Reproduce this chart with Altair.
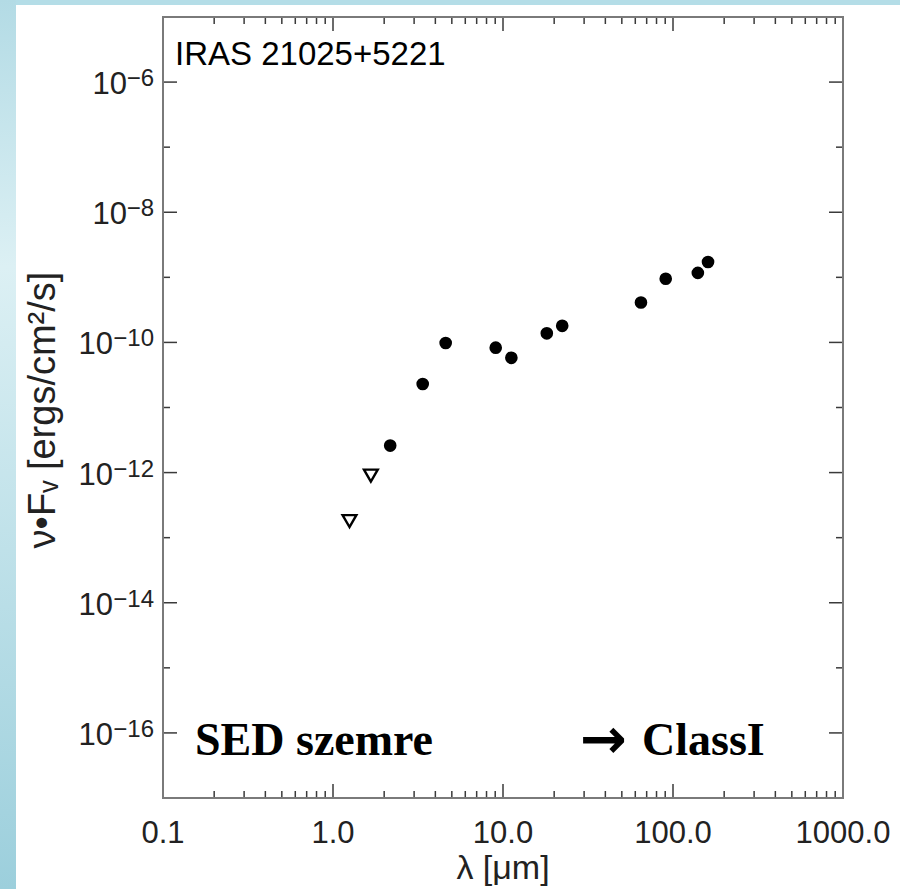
import altair as alt
import pandas as pd

# ---- data ----
lam_det = [2.17, 3.37, 4.6, 9.06, 11.2, 18.1, 22.3, 64.8, 90.6, 140.0, 160.7]
flux_det = [2.6e-12, 2.3e-11, 9.8e-11, 8.3e-11, 5.8e-11, 1.38e-10, 1.8e-10,
            4.1e-10, 9.5e-10, 1.17e-9, 1.72e-9]
lam_lim = [1.25, 1.67]
flux_lim = [1.8e-13, 9.0e-13]

x_label_values = [0.1, 1, 10, 100, 1000]
x_label_text = ["0.1", "1.0", "10.0", "100.0", "1000.0"]
x_major = [1, 10, 100]
x_minor = [m * d for d in [0.1, 1, 10, 100] for m in range(2, 10)]
y_major = [1e-16, 1e-14, 1e-12, 1e-10, 1e-8, 1e-6]
y_label_base = ["10", "10", "10", "10", "10", "10"]
y_label_exp = ["−16", "−14", "−12", "−10", "−8", "−6"]
y_minor = [1e-15, 1e-13, 1e-11, 1e-9, 1e-7]

source_name = "IRAS 21025+5221"
note_left = "SED szemre"
note_arrow = "→"
note_right = "ClassI"
x_title = "λ [μm]"
y_title = "ν•Fᵥ [ergs/cm²/s]"

W, H = 680, 781
PL, PT = 163, 17

xs = alt.Scale(type="log", domain=[0.1, 1000], nice=False)
ys = alt.Scale(type="log", domain=[1e-17, 1e-5], nice=False)

FONT = "Liberation Sans"
TXT = "#222222"

one = pd.DataFrame({"k": [0]})

bg_top = alt.Chart(one).mark_rect(color="#b4dde7").encode(
    x=alt.value(-PL), x2=alt.value(900 - PL), y=alt.value(-PT), y2=alt.value(5 - PT))

bg_strip = alt.Chart(one).mark_rect(
    color=alt.Gradient(gradient="linear", x1=0, x2=0, y1=0, y2=1,
                       stops=[alt.GradientStop(color="#b3dbe5", offset=0),
                              alt.GradientStop(color="#dcf0f4", offset=0.3),
                              alt.GradientStop(color="#9ccfdc", offset=1)])
).encode(x=alt.value(-PL), x2=alt.value(16 - PL), y=alt.value(-PT), y2=alt.value(889 - PT))

frame = alt.Chart(one).mark_rect(filled=False, stroke="#7a7a7a", strokeWidth=2).encode(
    x=alt.value(0), x2=alt.value(W), y=alt.value(0), y2=alt.value(H))


def xticks(vals, length, top):
    y0 = 0 if top else H
    y1 = length if top else H - length
    return alt.Chart(pd.DataFrame({"v": vals})).mark_rule(color="#3a3a3a", strokeWidth=1.5).encode(
        x=alt.X("v:Q", scale=xs, axis=None), y=alt.value(y0), y2=alt.value(y1))


def yticks(vals, length, right):
    x0 = W if right else 0
    x1 = W - length if right else length
    return alt.Chart(pd.DataFrame({"v": vals})).mark_rule(color="#3a3a3a", strokeWidth=1.5).encode(
        y=alt.Y("v:Q", scale=ys, axis=None), x=alt.value(x0), x2=alt.value(x1))


tick_layers = [xticks(x_major, 14, False), xticks(x_minor, 7, False),
               xticks(x_major, 14, True), xticks(x_minor, 7, True),
               yticks(y_major, 14, False), yticks(y_minor, 7, False),
               yticks(y_major, 14, True), yticks(y_minor, 7, True)]

x_labels = alt.Chart(pd.DataFrame({"v": x_label_values, "t": x_label_text})).mark_text(
    font=FONT, fontSize=31, color=TXT, align="center", baseline="top"
).encode(x=alt.X("v:Q", scale=xs, axis=None), y=alt.value(H + 21), text="t:N")

ylab_df = pd.DataFrame({"v": y_major, "b": y_label_base, "e": y_label_exp})
ylab = alt.Chart(ylab_df)

y_exp = ylab.mark_text(
    font=FONT, fontSize=24, color=TXT, align="right", baseline="alphabetic", dy=4
).encode(y=alt.Y("v:Q", scale=ys, axis=None), x=alt.value(-9), text="e:N")

y_base_short = ylab.transform_filter("length(datum.e) == 2").mark_text(
    font=FONT, fontSize=31, color=TXT, align="right", baseline="alphabetic", dy=12
).encode(y=alt.Y("v:Q", scale=ys, axis=None), x=alt.value(-36), text="b:N")

y_base_long = ylab.transform_filter("length(datum.e) == 3").mark_text(
    font=FONT, fontSize=31, color=TXT, align="right", baseline="alphabetic", dy=12
).encode(y=alt.Y("v:Q", scale=ys, axis=None), x=alt.value(-50), text="b:N")

x_title_mark = alt.Chart(one).mark_text(
    text=x_title, font=FONT, fontSize=34, color=TXT, align="center", baseline="alphabetic"
).encode(x=alt.value(W / 2), y=alt.value(879 - PT))

y_title_mark = alt.Chart(one).mark_text(
    text=y_title, font=FONT, fontSize=38, color=TXT, align="center", baseline="middle", angle=270
).encode(x=alt.value(44 - PL), y=alt.value(410 - PT))

det = alt.Chart(pd.DataFrame({"lam": lam_det, "flux": flux_det})).mark_point(
    shape="circle", filled=True, color="black", size=160, opacity=1
).encode(
    x=alt.X("lam:Q", scale=xs, axis=None),
    y=alt.Y("flux:Q", scale=ys, axis=None),
)

lim = alt.Chart(pd.DataFrame({"lam": lam_lim, "flux": flux_lim})).mark_point(
    shape="triangle-down", filled=False, color="black", size=190, strokeWidth=2.4, opacity=1
).encode(
    x=alt.X("lam:Q", scale=xs, axis=None),
    y=alt.Y("flux:Q", scale=ys, axis=None),
)

t_src = alt.Chart(one).mark_text(text=source_name, font=FONT, fontSize=33, color="black",
                                 align="left", baseline="alphabetic").encode(
    x=alt.value(175 - PL), y=alt.value(65 - PT))
t_left = alt.Chart(one).mark_text(text=note_left, font="Liberation Serif", fontSize=46,
                                  fontWeight="bold", color="black", align="left",
                                  baseline="alphabetic").encode(
    x=alt.value(195 - PL), y=alt.value(755 - PT))
t_arrow = alt.Chart(one).mark_text(text=note_arrow, font="DejaVu Sans", fontSize=56,
                                   fontWeight="bold", color="black", align="left",
                                   baseline="alphabetic").encode(
    x=alt.value(580 - PL), y=alt.value(758 - PT))
t_right = alt.Chart(one).mark_text(text=note_right, font="Liberation Serif", fontSize=46,
                                   fontWeight="bold", color="black", align="left",
                                   baseline="alphabetic").encode(
    x=alt.value(642 - PL), y=alt.value(755 - PT))

chart = alt.layer(
    bg_top, bg_strip, det, lim, *tick_layers, frame, x_labels, y_exp, y_base_short,
    y_base_long, x_title_mark, y_title_mark, t_src, t_left, t_arrow, t_right
).properties(
    width=W, height=H,
    autosize=alt.AutoSizeParams(type="none"),
    padding={"left": PL, "top": PT, "right": 900 - PL - W, "bottom": 889 - PT - H},
    background="white",
).configure_view(stroke=None)

chart.save("out.html", embed_options={"renderer": "svg", "actions": False})
